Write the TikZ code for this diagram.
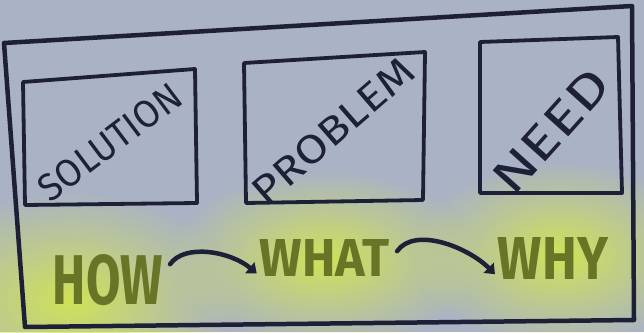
\documentclass[tikz,border=0pt]{standalone}
\usepackage{fontspec}
\setmainfont{Fira Sans}
\usetikzlibrary{arrows.meta,fadings}
\definecolor{bg}{RGB}{170,178,198}
\definecolor{ink}{RGB}{30,32,55}
\definecolor{grn}{RGB}{104,116,38}
\definecolor{glow}{RGB}{208,226,88}
\tikzfading[name=softglow, inner color=transparent!0, outer color=transparent!100]
\tikzset{
  frame/.style={draw=ink,line width=4.5pt,line join=round,line cap=round},
  boxline/.style={draw=ink,line width=3.8pt,line join=round,line cap=round},
  boxtext/.style={text=ink,inner sep=0pt,font=\mdseries},
  keyword/.style={text=grn,inner sep=0pt,font=\bfseries},
  flow/.style={draw=ink,line width=4.5pt,line cap=round,-{Triangle[length=9pt,width=14pt]},shorten <=12pt,shorten >=4pt},
  halo/.style={fill=glow,path fading=softglow}
}
\begin{document}
\begin{tikzpicture}[x=1pt,y=-1pt]
\fill[bg] (0,0) rectangle (644,332);
\useasboundingbox (0,0) rectangle (644,332);
% glows
\fill[halo] (70,300) ellipse (170 and 110);
\fill[halo] (325,260) ellipse (160 and 90);
\fill[halo] (560,255) ellipse (150 and 95);
% outer frame
\draw[frame] (4,43) -- (632,6) -- (634,320) -- (25,327) -- cycle;
% inner boxes
\draw[boxline] (23,82) -- (195,69) -- (197,203) -- (25,205) -- cycle;
\draw[boxline] (244,63) -- (425,52) -- (423,200) -- (246,203) -- cycle;
\draw[boxline] (480,42) -- (618,37) -- (622,193) -- (480,193) -- cycle;
% box texts
\node[boxtext,rotate=37] (solution) at (110,142) {\resizebox{168pt}{27pt}{SOLUTION}};
\node[boxtext,rotate=41] (problem) at (333,131) {\resizebox{200pt}{28pt}{PROBLEM}};
\node[boxtext,rotate=48] (need) at (551,131) {\resizebox{150pt}{33pt}{NEED}};
% keywords
\node[keyword] (how) at (108,280) {\resizebox{110pt}{50pt}{HOW}};
\node[keyword] (what) at (325,258) {\resizebox{130pt}{37pt}{WHAT}};
\node[keyword] (why) at (553,258) {\resizebox{110pt}{42pt}{WHY}};
% connectors
\draw[flow] ([yshift=6pt]how.east) to[out=55,in=140] ([yshift=-18pt]what.west);
\draw[flow] ([yshift=-3pt]what.east) to[out=55,in=135] ([yshift=-19pt]why.west);
\end{tikzpicture}
\end{document}
